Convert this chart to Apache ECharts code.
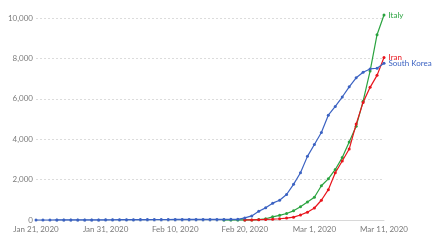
<!DOCTYPE html>
<html>
<head>
<meta charset="utf-8">
<script src="https://cdn.jsdelivr.net/npm/echarts@6/dist/echarts.min.js"></script>
<style>
html,body{margin:0;padding:0;background:#fff;}
#chart{width:434px;height:241px;}
</style>
</head>
<body>
<div id="chart"></div>
<script>
var dates = [
  "Jan 21","Jan 22","Jan 23","Jan 24","Jan 25","Jan 26","Jan 27","Jan 28","Jan 29","Jan 30","Jan 31",
  "Feb 1","Feb 2","Feb 3","Feb 4","Feb 5","Feb 6","Feb 7","Feb 8","Feb 9","Feb 10",
  "Feb 11","Feb 12","Feb 13","Feb 14","Feb 15","Feb 16","Feb 17","Feb 18","Feb 19","Feb 20",
  "Feb 21","Feb 22","Feb 23","Feb 24","Feb 25","Feb 26","Feb 27","Feb 28","Feb 29",
  "Mar 1","Mar 2","Mar 3","Mar 4","Mar 5","Mar 6","Mar 7","Mar 8","Mar 9","Mar 10","Mar 11"
];
var southKorea = [1,1,1,2,2,3,4,4,4,4,11,12,15,15,16,19,23,24,24,25,27,28,28,28,28,28,29,30,31,31,104,204,433,602,833,977,1261,1766,2337,3150,3736,4335,5186,5621,6088,6593,7041,7314,7478,7513,7755];
var italy = [null,null,null,0,0,0,0,0,0,0,0,2,2,2,2,2,2,2,3,3,3,3,3,3,3,3,3,3,3,3,3,3,20,62,155,229,322,453,655,888,1128,1694,2036,2502,3089,3858,4636,5883,7375,9172,10149];
var iran = [null,null,null,0,0,0,0,0,0,0,0,0,0,0,0,0,0,0,0,0,0,0,0,0,0,0,0,0,0,0,2,5,18,28,43,61,95,139,245,388,593,978,1501,2336,2922,3513,4747,5823,6566,7161,8042];
var yTicks = [0,2000,4000,6000,8000,10000];

var cGreen = '#2aa33f', cRed = '#e8141c', cBlue = '#3b62c2', cBand = '#a9bcd6';
var font = 'Lato, "Liberation Sans", sans-serif';

function part(arr, from, to) {
  return arr.map(function (v, i) { return (i >= from && i <= to) ? v : null; });
}
function withEndLabel(arr, name, color) {
  var last = arr.length - 1;
  return arr.map(function (v, i) {
    if (i !== last) return v;
    return {value: v, label: {show: true, position: 'right', distance: 3, formatter: name,
      color: color, fontSize: 8, fontFamily: font}};
  });
}
function mkSeries(name, data, color, z) {
  return {
    name: name, type: 'line', data: data, clip: false,
    symbol: 'circle', symbolSize: 3, showSymbol: true, connectNulls: false,
    lineStyle: {width: 1.2, color: color},
    itemStyle: {color: color},
    z: z
  };
}

var chart = echarts.init(document.getElementById('chart'), null, {renderer: 'canvas'});
chart.setOption({
  animation: false,
  backgroundColor: '#fff',
  grid: {left: 36, right: 50, top: 18, bottom: 21, containLabel: false},
  xAxis: {
    type: 'category', data: dates, boundaryGap: false,
    axisLine: {show: true, lineStyle: {color: '#d8d8d8', width: 1}},
    axisTick: {show: false},
    axisLabel: {
      interval: function (i) { return i % 10 === 0; },
      formatter: function (v) { return v + ', 2020'; },
      color: '#7a7a7a', fontSize: 8, fontFamily: font, margin: 5
    },
    splitLine: {show: false}
  },
  yAxis: {
    type: 'value', min: yTicks[0], max: yTicks[yTicks.length - 1], interval: 2000,
    axisLine: {show: false}, axisTick: {show: false},
    axisLabel: {
      color: '#7a7a7a', fontSize: 8, fontFamily: font, margin: 3,
      formatter: function (v) { return v.toLocaleString('en-US'); }
    },
    splitLine: {show: true, lineStyle: {color: '#dcdcdc', type: [2, 2], width: 1}}
  },
  series: [
    mkSeries('Italy early', part(italy, 0, 27), cBand, 1),
    mkSeries('Iran early', part(iran, 0, 30), cBand, 1),
    mkSeries('Italy', withEndLabel(part(italy, 27, 50), 'Italy', cGreen), cGreen, 2),
    mkSeries('Iran', withEndLabel(part(iran, 30, 50), 'Iran', cRed), cRed, 3),
    mkSeries('South Korea', withEndLabel(southKorea, 'South Korea', cBlue), cBlue, 4)
  ]
});
</script>
</body>
</html>
